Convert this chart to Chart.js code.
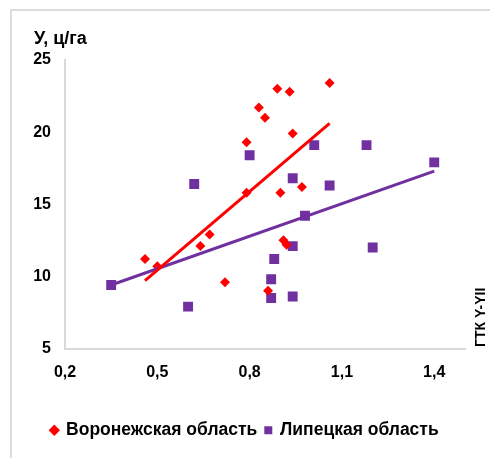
<!DOCTYPE html>
<html>
<head>
<meta charset="utf-8">
<script src="https://cdn.jsdelivr.net/npm/chart.js@4"></script>
<style>
  html, body { margin: 0; padding: 0; background: #fff; }
  #wrap { width: 490px; height: 458px; position: relative; }
</style>
</head>
<body>
<div id="wrap"><canvas id="myChart"></canvas></div>
<script>
// Воронежская область (ГТК, урожайность)
const voronezhX = [0.46, 0.50, 0.64, 0.67, 0.72, 0.79, 0.79, 0.83, 0.85, 0.89, 0.93, 0.94, 0.90, 0.97, 0.91, 0.92, 0.86, 1.06];
const voronezhY = [11.2, 10.7, 12.1, 12.9, 9.6, 15.8, 19.3, 21.7, 21.0, 23.0, 22.8, 19.9, 15.8, 16.2, 12.5, 12.2, 9.0, 23.4];
// Липецкая область
const lipetskX = [0.35, 0.60, 0.62, 0.80, 0.87, 0.87, 0.88, 0.94, 0.94, 0.94, 0.98, 1.01, 1.06, 1.18, 1.20, 1.40];
const lipetskY = [9.4, 7.9, 16.4, 18.4, 9.8, 8.5, 11.2, 12.1, 8.6, 16.8, 14.2, 19.1, 16.3, 19.1, 12.0, 17.9];
// линии тренда (концы)
const voronezhTrendX = [0.46, 1.06];
const voronezhTrendY = [9.7, 20.6];
const lipetskTrendX = [0.35, 1.40];
const lipetskTrendY = [9.4, 17.3];
// подписи осей
const xTicks = [0.2, 0.5, 0.8, 1.1, 1.4];
const yTicks = [5, 10, 15, 20, 25];

const toPoints = (xs, ys) => xs.map((x, i) => ({ x: x, y: ys[i] }));

const RED = "#ff0000";
const PURPLE = "#7030a0";
const AXIS = "#d9d9d9";
const FONT = "'Liberation Sans', Arial, sans-serif";

// рамка и подписи осей
const extras = {
    id: "extras",
    beforeDraw(chart) {
        const ctx = chart.ctx;
        ctx.save();
        ctx.strokeStyle = "#dcdcdc";
        ctx.lineWidth = 2;
        ctx.strokeRect(11, 10, 600, 600);
        ctx.restore();
    },
    afterDraw(chart) {
        const ctx = chart.ctx;
        ctx.save();
        ctx.fillStyle = "#000";
        ctx.font = "bold 18px " + FONT;
        ctx.textBaseline = "alphabetic";
        ctx.fillText("У, ц/га", 34, 44);
        ctx.translate(485, 347);
        ctx.rotate(-Math.PI / 2);
        ctx.font = "bold 14px " + FONT;
        ctx.fillText("ГТК Y-YII", 0, 0);
        ctx.restore();
    }
};

const ctx = document.getElementById("myChart").getContext("2d");
const myChart = new Chart(ctx, {
    type: "scatter",
    data: {
        datasets: [{
            label: "Воронежская область",
            data: toPoints(voronezhX, voronezhY),
            pointStyle: "rectRot",
            pointRadius: 5,
            pointHoverRadius: 5,
            backgroundColor: RED,
            borderColor: RED,
            borderWidth: 0,
            order: 2
        }, {
            label: "Липецкая область",
            data: toPoints(lipetskX, lipetskY),
            pointStyle: "rect",
            pointRadius: 7,
            pointHoverRadius: 7,
            backgroundColor: PURPLE,
            borderColor: PURPLE,
            borderWidth: 0,
            order: 3
        }, {
            label: "trend1",
            type: "line",
            data: toPoints(voronezhTrendX, voronezhTrendY),
            borderColor: RED,
            borderWidth: 3,
            pointRadius: 0,
            fill: false,
            order: 1
        }, {
            label: "trend2",
            type: "line",
            data: toPoints(lipetskTrendX, lipetskTrendY),
            borderColor: PURPLE,
            borderWidth: 3,
            pointRadius: 0,
            fill: false,
            order: 1
        }]
    },
    options: {
        responsive: true,
        maintainAspectRatio: false,
        animation: false,
        layout: {
            padding: { left: 25, top: 60, right: 25, bottom: 9 }
        },
        plugins: {
            tooltip: { enabled: false },
            legend: {
                position: "bottom",
                labels: {
                    usePointStyle: true,
                    boxWidth: 6,
                    boxHeight: 8,
                    padding: 8,
                    color: "#000",
                    font: { family: FONT, size: 17.5, weight: "bold" },
                    filter: (item) => item.datasetIndex < 2
                }
            }
        },
        scales: {
            x: {
                type: "linear",
                min: 0.2,
                max: 1.5,
                afterBuildTicks: (scale) => { scale.ticks = xTicks.map(v => ({ value: v })); },
                afterFit: (scale) => { scale.height = 65; },
                grid: { display: true, drawOnChartArea: false, drawTicks: false, color: AXIS },
                border: { display: true, color: AXIS, width: 2 },
                ticks: {
                    padding: 14,
                    color: "#000",
                    font: { family: FONT, size: 16, weight: "bold" },
                    callback: (v) => Number(v).toFixed(1).replace(".", ",")
                }
            },
            y: {
                type: "linear",
                min: 5,
                max: 25,
                afterBuildTicks: (scale) => { scale.ticks = yTicks.map(v => ({ value: v })); },
                afterFit: (scale) => { scale.width = 40; },
                grid: { display: true, drawOnChartArea: false, drawTicks: false, color: AXIS },
                border: { display: true, color: AXIS, width: 2 },
                ticks: {
                    padding: 14,
                    color: "#000",
                    font: { family: FONT, size: 16, weight: "bold" }
                }
            }
        }
    },
    plugins: [extras]
});
</script>
</body>
</html>
